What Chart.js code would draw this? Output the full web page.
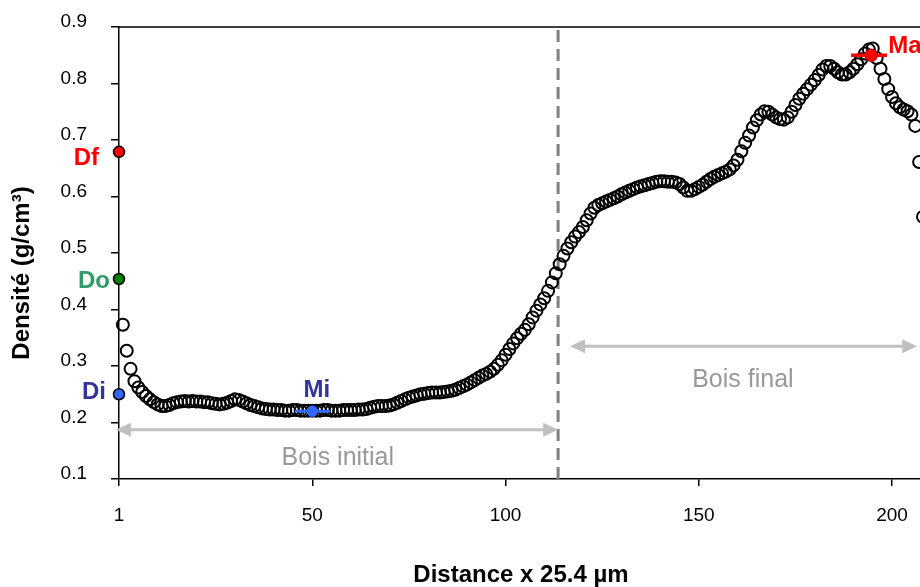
<!DOCTYPE html>
<html><head><meta charset="utf-8">
<script src="https://cdn.jsdelivr.net/npm/chart.js@4.4.1/dist/chart.umd.min.js"></script>
<style>
html,body{margin:0;padding:0;background:#fff;overflow:hidden;}
#wrap{width:940px;height:587px;}
</style></head><body>
<div id="wrap"><canvas id="c" width="940" height="587"></canvas></div>
<script>
// ---- data ----
const density = [
  0.373,0.327,0.295,0.273,0.262,0.254,0.247,0.241,0.236,0.232,
  0.229,0.229,0.231,0.234,0.236,0.237,0.238,0.237,0.238,0.237,
  0.237,0.236,0.236,0.234,0.233,0.232,0.233,0.235,0.238,0.241,
  0.240,0.237,0.234,0.231,0.229,0.227,0.225,0.224,0.223,0.223,
  0.222,0.222,0.221,0.221,0.222,0.222,0.221,0.221,0.221,0.221,
  0.221,0.221,0.222,0.222,0.221,0.221,0.221,0.222,0.222,0.222,
  0.222,0.223,0.223,0.224,0.226,0.228,0.229,0.229,0.229,0.230,
  0.232,0.235,0.238,0.241,0.244,0.246,0.248,0.250,0.251,0.252,
  0.253,0.253,0.253,0.254,0.255,0.256,0.258,0.261,0.264,0.267,
  0.271,0.275,0.279,0.283,0.286,0.290,0.295,0.302,0.310,0.320,
  0.330,0.340,0.349,0.357,0.364,0.374,0.386,0.398,0.409,0.420,
  0.433,0.448,0.464,0.480,0.495,0.508,0.519,0.529,0.537,0.546,
  0.558,0.570,0.580,0.585,0.588,0.591,0.594,0.597,0.600,0.604,
  0.607,0.610,0.613,0.616,0.618,0.620,0.622,0.624,0.626,0.627,
  0.627,0.626,0.626,0.625,0.622,0.616,0.610,0.610,0.613,0.617,
  0.621,0.626,0.631,0.635,0.638,0.641,0.644,0.648,0.655,0.665,
  0.680,0.695,0.708,0.722,0.735,0.745,0.751,0.750,0.745,0.740,
  0.737,0.736,0.740,0.750,0.762,0.773,0.782,0.790,0.798,0.806,
  0.815,0.825,0.831,0.831,0.826,0.820,0.816,0.816,0.820,0.826,
  0.834,0.843,0.853,0.860,0.862,0.845,0.826,0.808,0.790,0.776,
  0.765,0.758,0.754,0.751,0.745,0.725,0.661,0.564
];
const distance = density.map((_, k) => k + 1);

const xTickValues = [0, 50, 100, 150, 200];
const xTickLabels = ['1', '50', '100', '150', '200'];
const yTickValues = [0.1, 0.2, 0.3, 0.4, 0.5, 0.6, 0.7, 0.8, 0.9];

const markerNames = ['Df', 'Do', 'Di', 'Mi', 'Ma'];
const markerX = [0, 0, 0, 50, 194.6];
const markerY = [0.679, 0.454, 0.250, 0.220, 0.850];
const miRange = [45.5, 54.6];
const maRange = [189.4, 198.7];

const transitionX = 113.6;
const zoneNames = ['Bois initial', 'Bois final'];
const zoneFrom = [-0.8, 116.7];
const zoneTo = [113.6, 206.5];
const zoneArrowY = [0.187, 0.335];
const zoneTextX = [56.6, 161.4];
const zoneTextY = [0.137, 0.275];

// ---- styles ----
const FONT = '"Liberation Sans", Arial, sans-serif';
const markerFill = ['#FF0000', '#008000', '#3366FF', '#3366FF', '#FF0000'];
const markerBorder = ['#000000', '#000000', '#000000', '#3366FF', '#CC0000'];
const markerRadius = [5.5, 5.5, 5.5, 5, 6];
const labelColor = ['#FF0000', '#339966', '#333399', '#333399', '#FF0000'];
const labelAlign = ['right', 'right', 'right', 'center', 'left'];
const labelDx = [-20, -9, -13, 4.5, 17];
const labelDy = [7, 2, -2, -21, -9];

const annotate = {
  id: 'annotate',
  afterDatasetsDraw(chart) {
    const {ctx, chartArea: a, scales: {x, y}} = chart;
    ctx.save();
    // top / right frame
    ctx.strokeStyle = '#000'; ctx.lineWidth = 1.5;
    ctx.beginPath();
    ctx.moveTo(a.left, a.top); ctx.lineTo(a.right, a.top); ctx.lineTo(a.right, a.bottom);
    ctx.stroke();
    // zone arrows
    const head = 15, half = 7;
    ctx.fillStyle = '#C0C0C0'; ctx.strokeStyle = '#C0C0C0'; ctx.lineWidth = 3;
    for (let k = 0; k < zoneNames.length; k++) {
      const x1 = x.getPixelForValue(zoneFrom[k]);
      const x2 = x.getPixelForValue(zoneTo[k]);
      const yy = y.getPixelForValue(zoneArrowY[k]);
      ctx.beginPath(); ctx.moveTo(x1 + head - 2, yy); ctx.lineTo(x2 - head + 2, yy); ctx.stroke();
      ctx.beginPath(); ctx.moveTo(x1, yy); ctx.lineTo(x1 + head, yy - half); ctx.lineTo(x1 + head, yy + half); ctx.closePath(); ctx.fill();
      ctx.beginPath(); ctx.moveTo(x2, yy); ctx.lineTo(x2 - head, yy - half); ctx.lineTo(x2 - head, yy + half); ctx.closePath(); ctx.fill();
    }
    ctx.fillStyle = '#999999';
    ctx.font = '25px ' + FONT;
    ctx.textAlign = 'center'; ctx.textBaseline = 'middle';
    for (let k = 0; k < zoneNames.length; k++) {
      ctx.fillText(zoneNames[k], x.getPixelForValue(zoneTextX[k]), y.getPixelForValue(zoneTextY[k]));
    }
    // marker labels
    ctx.font = 'bold 24px ' + FONT;
    for (let k = 0; k < markerNames.length; k++) {
      ctx.fillStyle = labelColor[k];
      ctx.textAlign = labelAlign[k];
      ctx.fillText(markerNames[k], x.getPixelForValue(markerX[k]) + labelDx[k], y.getPixelForValue(markerY[k]) + labelDy[k]);
    }
    ctx.restore();
  }
};

new Chart(document.getElementById('c'), {
  type: 'scatter',
  data: {
    datasets: [
      {
        label: 'Densité',
        data: distance.map((d, k) => ({x: d, y: density[k]})),
        pointRadius: 6, pointBorderWidth: 2,
        pointBorderColor: '#000', pointBackgroundColor: 'rgba(0,0,0,0)',
        showLine: false, clip: false, order: 2
      },
      {
        label: 'transition',
        data: [{x: transitionX, y: 0.1}, {x: transitionX, y: 0.9}],
        showLine: true, borderColor: '#808080', borderWidth: 3, borderDash: [12, 7],
        pointRadius: 0, clip: false, order: 3
      },
      {
        label: 'Mi range',
        data: [{x: miRange[0], y: markerY[3]}, {x: miRange[1], y: markerY[3]}],
        showLine: true, borderColor: '#3366FF', borderWidth: 3, pointRadius: 0, clip: false, order: 1
      },
      {
        label: 'Ma range',
        data: [{x: maRange[0], y: markerY[4]}, {x: maRange[1], y: markerY[4]}],
        showLine: true, borderColor: '#FF0000', borderWidth: 3.5, pointRadius: 0, clip: false, order: 1
      },
      {
        label: 'marqueurs',
        data: markerX.map((v, k) => ({x: v, y: markerY[k]})),
        pointRadius: markerRadius, pointBorderWidth: 1.5,
        pointBackgroundColor: markerFill, pointBorderColor: markerBorder,
        showLine: false, clip: false, order: 0
      }
    ]
  },
  options: {
    responsive: false, animation: false, devicePixelRatio: 1,
    events: [],
    layout: {padding: {left: 0, right: 17, top: 27, bottom: 0}},
    plugins: {legend: {display: false}, tooltip: {enabled: false}},
    scales: {
      x: {
        type: 'linear', min: 0, max: 208,
        afterFit(s) { s.height = 108; s.paddingLeft = 0; s.paddingRight = 0; },
        afterBuildTicks(s) { s.ticks = xTickValues.map(v => ({value: v})); },
        ticks: {
          callback: (v, i) => xTickLabels[i],
          font: {family: FONT, size: 19}, color: '#000', padding: 18,
          maxRotation: 0, autoSkip: false
        },
        grid: {drawOnChartArea: false, drawTicks: true, tickLength: 7, color: '#000', lineWidth: 1.5},
        border: {display: true, color: '#000', width: 1.5},
        title: {
          display: true, text: 'Distance x 25.4 µm',
          font: {family: FONT, size: 24, weight: 'bold'}, color: '#000',
          padding: {top: 0, bottom: -3}
        }
      },
      y: {
        type: 'linear', min: 0.1, max: 0.9,
        afterFit(s) { s.width = 119; s.paddingTop = 0; s.paddingBottom = 0; },
        afterBuildTicks(s) { s.ticks = yTickValues.map(v => ({value: v})); },
        ticks: {
          callback: v => v.toFixed(1),
          font: {family: FONT, size: 19}, color: '#000', padding: 24, labelOffset: -5
        },
        grid: {drawOnChartArea: false, drawTicks: true, tickLength: 8, color: '#000', lineWidth: 1.5},
        border: {display: true, color: '#000', width: 1.5},
        title: {
          display: true, text: 'Densité (g/cm³)' + '\u00A0\u00A0\u00A0\u00A0\u00A0\u00A0',
          font: {family: FONT, size: 24, weight: 'bold'}, color: '#000',
          padding: {top: 8, bottom: 0}
        }
      }
    }
  },
  plugins: [annotate]
});
</script>
</body></html>
